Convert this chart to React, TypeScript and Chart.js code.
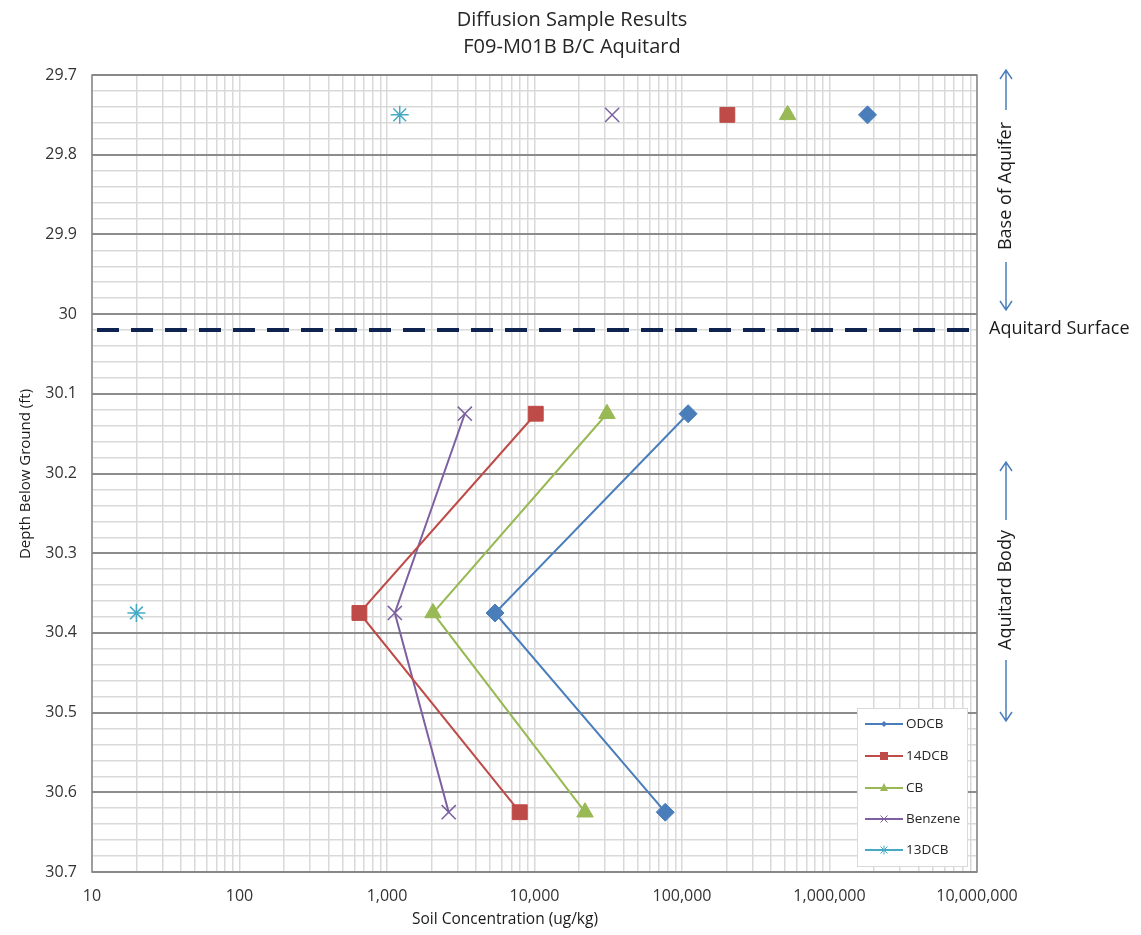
import React, { useEffect, useRef } from "react";
import { Chart, registerables } from "chart.js";

Chart.register(...registerables);

const FONT = "'Open Sans', 'Liberation Sans', sans-serif";

// Depths (ft)
const depthTop = 29.75;
const depthsLower = [30.125, 30.375, 30.625];
const surfaceDepth = 30.02;

// Concentrations (ug/kg)
const odcbTop = 1810000;
const odcbLower = [110000, 5400, 77000];
const dcb14Top = 203000;
const dcb14Lower = [10200, 650, 7950];
const cbTop = 520000;
const cbLower = [31000, 2050, 22000];
const benzeneTop = 33600;
const benzeneLower = [3370, 1130, 2620];
const dcb13Top = 1220;
const dcb13Lower = [20];

const seriesNames = ["ODCB", "14DCB", "CB", "Benzene", "13DCB"];
const seriesColors = ["#4A7EBB", "#BE4B48", "#98B954", "#7D60A0", "#46AAC5"];
const seriesStyles = ["rectRot", "rect", "triangle", "crossRot", "star"];
const seriesSizes = [9, 10.5, 9.5, 10, 9];

const xTickLabels = [10, 100, 1000, 10000, 100000, 1000000, 10000000];
const yTickLabels = [29.7, 29.8, 29.9, 30, 30.1, 30.2, 30.3, 30.4, 30.5, 30.6, 30.7];

const chartTitle = ["Diffusion Sample Results", "F09-M01B B/C Aquitard"];
const xTitle = "Soil Concentration (ug/kg)";
const yTitle = "Depth Below Ground (ft)";

export default function App() {
  const ref = useRef<HTMLCanvasElement>(null);

  useEffect(() => {
    document.body.style.margin = "0";
    const canvas = ref.current!;
    const lowerSets = [odcbLower, dcb14Lower, cbLower, benzeneLower];
    const topVals = [odcbTop, dcb14Top, cbTop, benzeneTop, dcb13Top];

    const datasets: any[] = [];
    seriesNames.forEach((name, i) => {
      const lower = i === 4
        ? [{ x: dcb13Lower[0], y: depthsLower[1] }]
        : lowerSets[i].map((v, k) => ({ x: v, y: depthsLower[k] }));
      const common = {
        borderColor: seriesColors[i],
        backgroundColor: seriesColors[i],
        pointStyle: seriesStyles[i],
        pointRadius: seriesSizes[i],
        pointBorderWidth: i >= 3 ? 1.5 : 1,
        pointBorderColor: seriesColors[i],
        pointBackgroundColor: seriesColors[i],
      };
      datasets.push({
        label: name,
        data: lower,
        showLine: i !== 4,
        borderWidth: 2,
        ...common,
      });
      datasets.push({
        label: "_top_" + name,
        data: [{ x: topVals[i], y: depthTop }],
        showLine: false,
        ...common,
      });
    });
    datasets.push({
      label: "_surface",
      data: [{ x: 10, y: surfaceDepth }, { x: 10000000, y: surfaceDepth }],
      showLine: true,
      borderColor: "#0F2350",
      borderWidth: 4,
      borderDash: [22, 12],
      borderDashOffset: -5,
      pointRadius: 0,
    });

    const decorPlugin = {
      id: "decor",
      beforeDatasetsDraw(chart: any) {
        const { ctx, chartArea: a } = chart;
        ctx.save();
        ctx.strokeStyle = "#868686";
        ctx.lineWidth = 1.5;
        ctx.strokeRect(a.left, a.top, a.right - a.left, a.bottom - a.top);
        ctx.restore();
      },
      afterDraw(chart: any) {
        const { ctx } = chart;
        ctx.save();
        // Title
        ctx.fillStyle = "#262626";
        ctx.textAlign = "center";
        ctx.textBaseline = "middle";
        ctx.font = `20px ${FONT}`;
        ctx.fillText(chartTitle[0], 572, 20);
        ctx.fillText(chartTitle[1], 572, 47);
        // axis titles
        ctx.font = `15.5px ${FONT}`;
        ctx.fillStyle = "#1a1a1a";
        ctx.fillText(xTitle, 505, 920);
        ctx.save();
        ctx.translate(26, 474);
        ctx.rotate(-Math.PI / 2);
        ctx.font = `15px ${FONT}`;
        ctx.fillText(yTitle, 0, 0);
        ctx.restore();

        // Right annotations
        ctx.font = `18px ${FONT}`;
        ctx.fillStyle = "#1a1a1a";
        ctx.textAlign = "left";
        ctx.fillText("Aquitard Surface", 989, 329);
        const ax = 1006;
        const arrow = (y1: number, y2: number) => {
          ctx.beginPath();
          ctx.moveTo(ax, y1);
          ctx.lineTo(ax, y2);
          const dir = y2 > y1 ? 1 : -1;
          ctx.moveTo(ax - 6, y2 - dir * 9);
          ctx.lineTo(ax, y2);
          ctx.lineTo(ax + 6, y2 - dir * 9);
          ctx.stroke();
        };
        ctx.strokeStyle = "#4A7EBB";
        ctx.lineWidth = 1.5;
        arrow(110, 70);
        arrow(262, 310);
        arrow(520, 462);
        arrow(660, 721);
        ctx.fillStyle = "#1a1a1a";
        ctx.textAlign = "center";
        ctx.save();
        ctx.translate(ax, 186);
        ctx.rotate(-Math.PI / 2);
        ctx.fillText("Base of Aquifer", 0, 0);
        ctx.restore();
        ctx.save();
        ctx.translate(ax, 590);
        ctx.rotate(-Math.PI / 2);
        ctx.fillText("Aquitard Body", 0, 0);
        ctx.restore();

        // Legend box
        const lx = 857, ly = 708, lw = 110, lh = 158;
        ctx.fillStyle = "#FFFFFF";
        ctx.fillRect(lx, ly, lw, lh);
        ctx.strokeStyle = "#D9D9D9";
        ctx.lineWidth = 1;
        ctx.strokeRect(lx + 0.5, ly + 0.5, lw, lh);
        const rowsY = [724, 756, 788, 819, 850];
        seriesNames.forEach((name, i) => {
          const y = rowsY[i];
          ctx.strokeStyle = seriesColors[i];
          ctx.fillStyle = seriesColors[i];
          ctx.lineWidth = 2;
          ctx.beginPath();
          ctx.moveTo(865, y);
          ctx.lineTo(903, y);
          ctx.stroke();
          const r = [3, 4, 4, 3.5, 3.5][i];
          ctx.lineWidth = 1;
          ctx.beginPath();
          if (i === 0) {
            ctx.moveTo(884, y - r); ctx.lineTo(884 + r, y); ctx.lineTo(884, y + r); ctx.lineTo(884 - r, y); ctx.closePath(); ctx.fill();
          } else if (i === 1) {
            ctx.fillRect(884 - r, y - r, 2 * r, 2 * r);
          } else if (i === 2) {
            ctx.moveTo(884, y - r - 1); ctx.lineTo(884 + r, y + r - 1); ctx.lineTo(884 - r, y + r - 1); ctx.closePath(); ctx.fill();
          } else if (i === 3) {
            ctx.moveTo(884 - r, y - r); ctx.lineTo(884 + r, y + r); ctx.moveTo(884 + r, y - r); ctx.lineTo(884 - r, y + r); ctx.stroke();
          } else {
            ctx.moveTo(884 - r, y - r); ctx.lineTo(884 + r, y + r); ctx.moveTo(884 + r, y - r); ctx.lineTo(884 - r, y + r);
            ctx.moveTo(884, y - r - 1); ctx.lineTo(884, y + r + 1); ctx.stroke();
          }
          ctx.fillStyle = "#262626";
          ctx.textAlign = "left";
          ctx.font = `13.5px ${FONT}`;
          ctx.fillText(name, 906, y);
        });
        ctx.restore();
      },
    };

    const chart = new Chart(canvas, {
      type: "scatter",
      data: { datasets },
      plugins: [decorPlugin],
      options: {
        animation: false,
        responsive: false,
        maintainAspectRatio: false,
        layout: { padding: { left: 0, right: 164, top: 75, bottom: 0 } },
        plugins: {
          legend: { display: false },
          title: { display: false },
          tooltip: { enabled: false },
        },
        scales: {
          x: {
            type: "logarithmic",
            min: 10,
            max: 10000000,
            afterFit: (s: any) => { s.height = 63; },
            afterBuildTicks: (s: any) => {
              const t: any[] = [];
              for (let e = 1; e < 7; e++) {
                for (let m = 1; m < 10; m++) t.push({ value: m * Math.pow(10, e) });
              }
              t.push({ value: 10000000 });
              s.ticks = t;
            },
            ticks: {
              autoSkip: false,
              maxRotation: 0,
              font: { family: FONT, size: 16 },
              color: "#333333",
              padding: 15,
              callback: (v: any) => {
                const n = Number(v);
                return xTickLabels.some((t) => Math.abs(t - n) < 1e-6 * t) ? n.toLocaleString("en-US") : "";
              },
            },
            grid: {
              color: "#D9D9D9",
              lineWidth: 1.5,
              drawTicks: false,
            },
            border: { display: false },
          },
          y: {
            type: "linear",
            min: 29.7,
            max: 30.7,
            reverse: true,
            afterFit: (s: any) => { s.width = 92; },
            afterBuildTicks: (s: any) => {
              const t: any[] = [];
              for (let k = 0; k <= 50; k++) t.push({ value: Math.round((29.7 + k * 0.02) * 1000) / 1000 });
              s.ticks = t;
            },
            ticks: {
              autoSkip: false,
              font: { family: FONT, size: 16 },
              color: "#333333",
              padding: 15,
              callback: (v: any) => {
                const n = Number(v);
                const hit = yTickLabels.find((t) => Math.abs(t - n) < 1e-6);
                return hit !== undefined ? String(hit) : "";
              },
            },
            grid: {
              color: (c: any) => {
                const n = c.tick ? c.tick.value : 0;
                return yTickLabels.some((t) => Math.abs(t - n) < 1e-6) ? "#8C8C8C" : "#D9D9D9";
              },
              lineWidth: (c: any) => {
                const n = c.tick ? c.tick.value : 0;
                return yTickLabels.some((t) => Math.abs(t - n) < 1e-6) ? 2 : 1.5;
              },
              drawTicks: false,
            },
            border: { display: false },
          },
        },
      } as any,
    });
    return () => chart.destroy();
  }, []);

  return (
    <div style={{ width: 1141, height: 935 }}>
      <canvas ref={ref} width={1141} height={935} style={{ display: "block" }} />
    </div>
  );
}
